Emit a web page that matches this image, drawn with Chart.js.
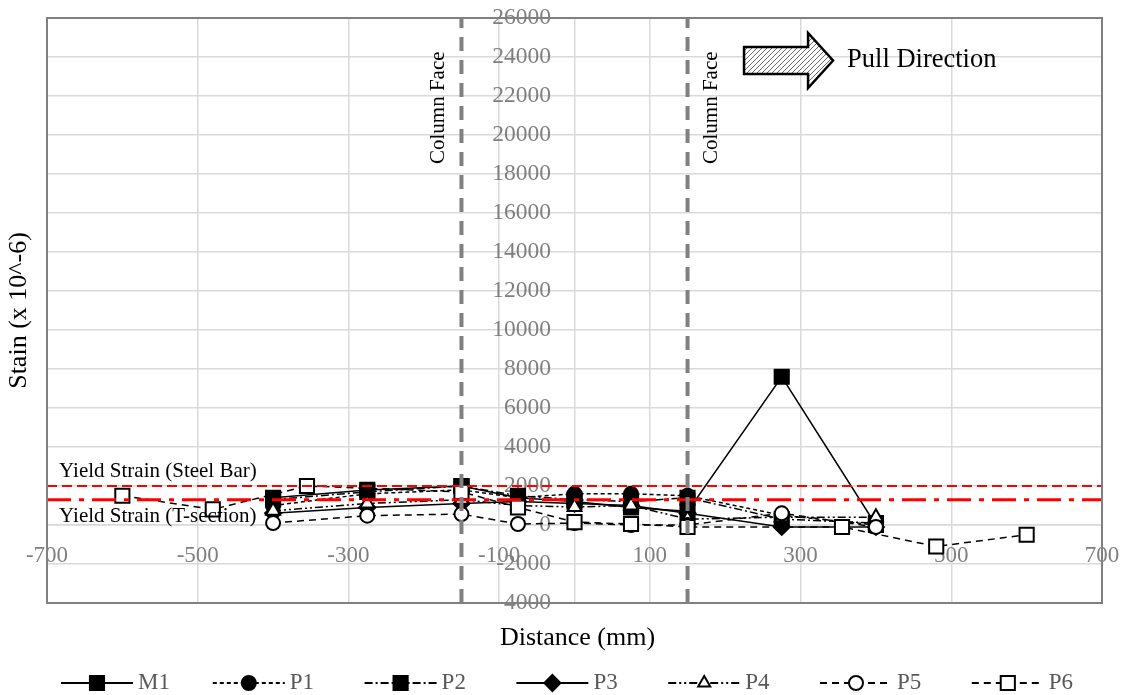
<!DOCTYPE html>
<html>
<head>
<meta charset="utf-8">
<script src="https://cdn.jsdelivr.net/npm/chart.js@4.4.1/dist/chart.umd.min.js"></script>
<style>
  html, body { margin: 0; padding: 0; background: #fff; }
  #wrap { width: 1126px; height: 695px; }
</style>
</head>
<body>
<div id="wrap"><canvas id="chart" width="1126" height="695"></canvas></div>
<script>
// gauge locations along the bar (mm), P6 has the longer gauge layout
const gaugeX = [-400, -275, -150, -75, 0, 75, 150, 275, 400];
const gaugeX6 = [-600, -480, -355, -150, -75, 0, 75, 150, 355, 480, 600];

// strain readings (x 10^-6)
const M1 = [1400, 1800, 2000, 1400, 1200, 900, 700, 7600, 0];
const P1 = [1000, 1600, 1800, 1400, 1600, 1600, 1500, 500, 0];
const P2 = [1300, 1700, 2000, 1500, 1300, 1200, 1400, 300, 100];
const P3 = [600, 900, 1100, 1200, 1100, 1000, 600, -100, -100];
const P4 = [730, 1100, 1300, 1000, 920, 1000, 300, 400, 400];
const P5 = [100, 480, 560, 50, 100, 0, 0, 600, -100];
const P6 = [1500, 800, 2000, 1700, 900, 150, 50, -100, -100, -1100, -500];

// reference levels
const yieldSteelBar = 2000;
const yieldTSection = 1300;
const columnFaces = [-150, 150];

// axis ranges
const xRange = [-700, 700];
const xStep = 200;
const yRange = [-4000, 26000];
const yStep = 2000;

const SERIF = "'Liberation Serif', 'Times New Roman', serif";
const pts = (xs, ys) => xs.map((x, i) => ({ x, y: ys[i] }));

const series = [
  { label: 'M1', xs: gaugeX, ys: M1, dash: [], point: 'rect', fill: '#000', r: 10 },
  { label: 'P1', xs: gaugeX, ys: P1, dash: [4, 3], point: 'circle', fill: '#000', r: 7 },
  { label: 'P2', xs: gaugeX, ys: P2, dash: [8, 3, 2, 3], point: 'rect', fill: '#000', r: 10 },
  { label: 'P3', xs: gaugeX, ys: P3, dash: [], point: 'rectRot', fill: '#000', r: 8 },
  { label: 'P4', xs: gaugeX, ys: P4, dash: [8, 3, 2, 3, 2, 3], point: 'triangle', fill: '#fff', r: 8 },
  { label: 'P5', xs: gaugeX, ys: P5, dash: [7, 5], point: 'circle', fill: '#fff', r: 7 },
  { label: 'P6', xs: gaugeX6, ys: P6, dash: [7, 5], point: 'rect', fill: '#fff', r: 10 }
];

const datasets = series.map((s, i) => ({
  label: s.label,
  data: pts(s.xs, s.ys),
  borderColor: '#000',
  borderWidth: 1.5,
  borderDash: s.dash,
  pointStyle: s.point,
  pointRadius: s.r,
  pointBackgroundColor: s.fill,
  pointBorderColor: '#000',
  pointBorderWidth: 2,
  tension: 0,
  order: 10 - i
}));

// horizontal yield lines and vertical column faces
datasets.push({
  label: 'yield-bar',
  data: pts(xRange, [yieldSteelBar, yieldSteelBar]),
  borderColor: '#ff0000', borderWidth: 2, borderDash: [10, 5], pointRadius: 0, order: 1
});
datasets.push({
  label: 'yield-t',
  data: pts(xRange, [yieldTSection, yieldTSection]),
  borderColor: '#ff0000', borderWidth: 3, borderDash: [24, 8, 5, 8], pointRadius: 0, order: 1
});
columnFaces.forEach(cx => datasets.push({
  label: 'column-face',
  data: pts([cx, cx], yRange),
  borderColor: '#808080', borderWidth: 4, borderDash: [14, 9], pointRadius: 0, order: 0
}));

function drawMarker(ctx, s, x, y, r) {
  ctx.save();
  ctx.setLineDash([]);
  ctx.fillStyle = s.fill;
  ctx.strokeStyle = '#000';
  ctx.lineWidth = 2;
  Chart.helpers.drawPoint(ctx, { pointStyle: s.point, radius: r, borderWidth: 2 }, x, y);
  ctx.restore();
}

// centred axes should not push the plot area inwards
function noScalePadding(scale) {
  scale.paddingLeft = scale.paddingRight = scale.paddingTop = scale.paddingBottom = 0;
}

const decorations = {
  id: 'decorations',
  afterDraw(chart) {
    const { ctx, chartArea: a, scales: { x, y } } = chart;
    ctx.save();

    // plot frame
    ctx.strokeStyle = '#808080';
    ctx.lineWidth = 2;
    ctx.setLineDash([]);
    ctx.strokeRect(a.left, a.top, a.width, a.height);

    // column face labels
    ctx.fillStyle = '#000';
    ctx.font = '21px ' + SERIF;
    ctx.textAlign = 'center';
    ctx.textBaseline = 'middle';
    [[-181, 21400], [182, 21400]].forEach(([vx, vy]) => {
      ctx.save();
      ctx.translate(x.getPixelForValue(vx), y.getPixelForValue(vy));
      ctx.rotate(-Math.PI / 2);
      ctx.fillText('Column Face', 0, 0);
      ctx.restore();
    });

    // yield labels
    ctx.textAlign = 'left';
    ctx.font = '21px ' + SERIF;
    ctx.fillText('Yield Strain (Steel Bar)', x.getPixelForValue(-684), y.getPixelForValue(2720));
    ctx.fillText('Yield Strain (T-section)', x.getPixelForValue(-684), y.getPixelForValue(420));

    // pull direction arrow
    const ax = x.getPixelForValue(225), ay = y.getPixelForValue(23820);
    const bodyW = 64, bodyH = 27, headL = 25, headH = 55;
    const pat = document.createElement('canvas');
    pat.width = 5; pat.height = 5;
    const pc = pat.getContext('2d');
    pc.fillStyle = '#fff'; pc.fillRect(0, 0, 5, 5);
    pc.strokeStyle = '#6a6a6a'; pc.lineWidth = 1;
    pc.beginPath(); pc.moveTo(-1, 6); pc.lineTo(6, -1); pc.stroke();
    pc.beginPath(); pc.moveTo(-1, 1); pc.lineTo(1, -1); pc.stroke();
    pc.beginPath(); pc.moveTo(4, 6); pc.lineTo(6, 4); pc.stroke();
    ctx.beginPath();
    ctx.moveTo(ax, ay - bodyH / 2);
    ctx.lineTo(ax + bodyW, ay - bodyH / 2);
    ctx.lineTo(ax + bodyW, ay - headH / 2);
    ctx.lineTo(ax + bodyW + headL, ay);
    ctx.lineTo(ax + bodyW, ay + headH / 2);
    ctx.lineTo(ax + bodyW, ay + bodyH / 2);
    ctx.lineTo(ax, ay + bodyH / 2);
    ctx.closePath();
    ctx.fillStyle = ctx.createPattern(pat, 'repeat');
    ctx.fill();
    ctx.strokeStyle = '#000';
    ctx.lineWidth = 2.5;
    ctx.stroke();
    ctx.fillStyle = '#000';
    ctx.font = '26.5px ' + SERIF;
    ctx.textBaseline = 'middle';
    ctx.fillText('Pull Direction', ax + bodyW + headL + 14, ay);

    // axis titles
    ctx.font = '26px ' + SERIF;
    ctx.textAlign = 'center';
    ctx.fillText('Distance (mm)', (a.left + a.right) / 2 + 3, 638);
    ctx.save();
    ctx.translate(19, (a.top + a.bottom) / 2);
    ctx.rotate(-Math.PI / 2);
    ctx.fillText('Stain (x 10^-6)', 0, 0);
    ctx.restore();

    // legend
    const ly = 683;
    ctx.font = '23px ' + SERIF;
    ctx.textAlign = 'left';
    series.forEach((s, i) => {
      const mx = 97 + i * 151.8;
      ctx.strokeStyle = '#000';
      ctx.lineWidth = 2;
      ctx.setLineDash(s.dash);
      ctx.beginPath();
      ctx.moveTo(mx - 36, ly);
      ctx.lineTo(mx + 36, ly);
      ctx.stroke();
      const r = s.point === 'rect' ? 10 : (s.point === 'rectRot' ? 8 : 7);
      drawMarker(ctx, s, mx, ly, r);
      ctx.fillStyle = '#595959';
      ctx.fillText(s.label, mx + 41, ly);
    });

    ctx.restore();
  }
};

new Chart(document.getElementById('chart'), {
  type: 'line',
  data: { datasets },
  options: {
    responsive: false,
    animation: false,
    layout: { padding: { left: 47, top: 18, right: 24, bottom: 92 } },
    plugins: { legend: { display: false }, tooltip: { enabled: false } },
    scales: {
      x: {
        type: 'linear',
        position: { y: 0 },
        min: xRange[0], max: xRange[1],
        afterFit: noScalePadding,
        grid: { color: '#d9d9d9', lineWidth: 1.5, drawTicks: false },
        border: { color: '#d9d9d9', width: 1.5 },
        ticks: {
          stepSize: xStep, autoSkip: false, maxRotation: 0, padding: 17,
          color: '#7f7f7f', font: { family: SERIF, size: 23 },
          callback: v => String(v)
        }
      },
      y: {
        type: 'linear',
        position: { x: 0 },
        min: yRange[0], max: yRange[1],
        afterFit: noScalePadding,
        grid: { color: '#d9d9d9', lineWidth: 1.5, drawTicks: false },
        border: { color: '#d9d9d9', width: 1.5 },
        ticks: {
          stepSize: yStep, autoSkip: false,
          color: '#7f7f7f', font: { family: SERIF, size: 23.5 },
          // trailing em space keeps the labels clear of the axis line
          callback: v => v + '\u2003'
        }
      }
    }
  },
  plugins: [decorations]
});
</script>
</body>
</html>
